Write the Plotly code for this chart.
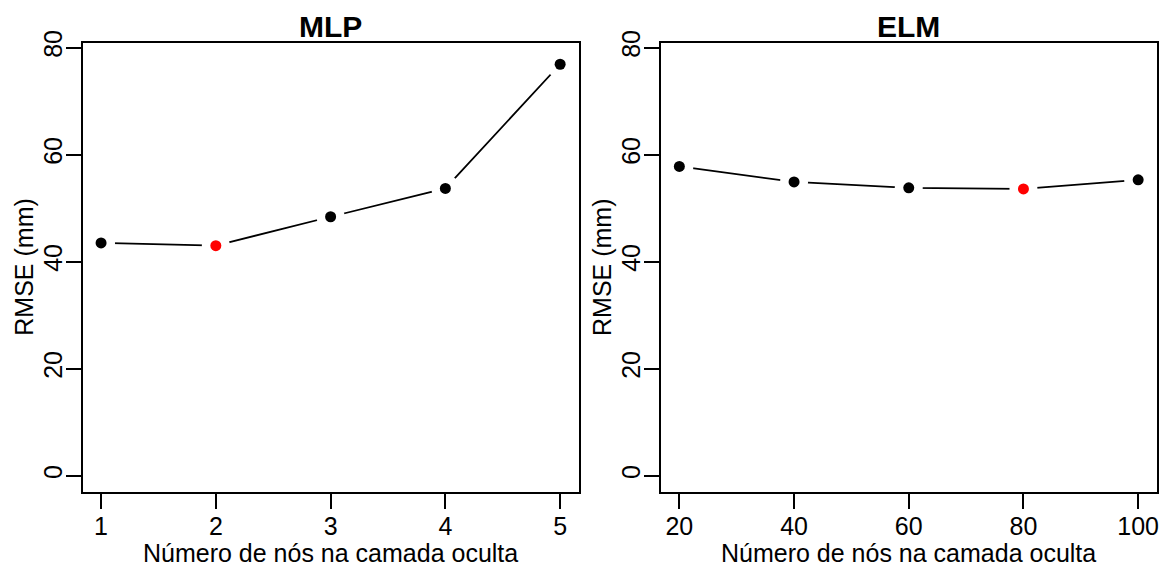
import plotly.graph_objects as go

W, H = 1168, 568

mlp_nodes = [1, 2, 3, 4, 5]
mlp_rmse = [43.5, 43.0, 48.4, 53.7, 76.9]
elm_nodes = [20, 40, 60, 80, 100]
elm_rmse = [57.8, 54.9, 53.8, 53.6, 55.3]
mlp_best = 2
elm_best = 80
y_ticks = [0, 20, 40, 60, 80]

FONT = "Liberation Sans, Arial, sans-serif"


def px_x(p):
    return p / W


def px_y(p):
    return 1 - p / H


fig = go.Figure()

panels = [
    ("MLP", mlp_nodes, mlp_rmse, mlp_best, "x", "y"),
    ("ELM", elm_nodes, elm_rmse, elm_best, "x2", "y2"),
]

for name, xs, ys, best, xa, ya in panels:
    fig.add_trace(go.Scatter(x=xs, y=ys, mode="lines", line=dict(color="black", width=1.8),
                             xaxis=xa, yaxis=ya, showlegend=False, hoverinfo="skip"))
    fig.add_trace(go.Scatter(x=xs, y=ys, mode="markers", marker=dict(color="white", size=28, line=dict(width=0)),
                             xaxis=xa, yaxis=ya, showlegend=False, hoverinfo="skip"))
    colors = ["red" if v == best else "black" for v in xs]
    fig.add_trace(go.Scatter(x=xs, y=ys, mode="markers", marker=dict(color=colors, size=11, line=dict(width=0)),
                             xaxis=xa, yaxis=ya, showlegend=False))

box_l = [82.7, 661.0]
box_r = [578.5, 1156.5]
box_t, box_b = 42.7, 492.3

common_axis = dict(showline=True, linecolor="black", linewidth=2, mirror=True, ticks="outside",
                   ticklen=15, tickwidth=2, tickcolor="black", showgrid=False, zeroline=False,
                   tickfont=dict(family=FONT, size=25, color="black"), automargin=False)

fig.update_layout(
    width=W, height=H, margin=dict(l=0, r=0, t=0, b=0),
    paper_bgcolor="white", plot_bgcolor="white",
    xaxis=dict(domain=[px_x(box_l[0]), px_x(box_r[0])], range=[0.84, 5.16], tickvals=mlp_nodes,
               anchor="y", ticklabelstandoff=-4, **common_axis),
    yaxis=dict(domain=[px_y(box_b), px_y(box_t)], range=[-3.1, 80.93], tickvals=y_ticks, tickangle=-90,
               anchor="x", ticklabelstandoff=-6, **common_axis),
    xaxis2=dict(domain=[px_x(box_l[1]), px_x(box_r[1])], range=[16.8, 103.2], tickvals=elm_nodes,
                anchor="y2", ticklabelstandoff=-4, **common_axis),
    yaxis2=dict(domain=[px_y(box_b), px_y(box_t)], range=[-3.1, 80.93], tickvals=y_ticks, tickangle=-90,
                anchor="x2", ticklabelstandoff=-6, **common_axis),
)

ann = []
for i, (name, *_rest) in enumerate(panels):
    cx = (box_l[i] + box_r[i]) / 2
    ann.append(dict(text="<b>%s</b>" % name, x=px_x(cx), y=px_y(26), xref="paper", yref="paper",
                    xanchor="center", yanchor="middle", showarrow=False,
                    font=dict(family=FONT, size=30, color="black")))
    ann.append(dict(text="Número de nós na camada oculta", x=px_x(cx), y=px_y(553), xref="paper", yref="paper",
                    xanchor="center", yanchor="middle", showarrow=False,
                    font=dict(family=FONT, size=25, color="black")))
    ann.append(dict(text="RMSE (mm)", x=px_x(box_l[i] - 59.5), y=px_y((box_t + box_b) / 2), xref="paper",
                    yref="paper", xanchor="center", yanchor="middle", textangle=-90, showarrow=False,
                    font=dict(family=FONT, size=25, color="black")))
fig.update_layout(annotations=ann)

fig.write_html("out.html")
